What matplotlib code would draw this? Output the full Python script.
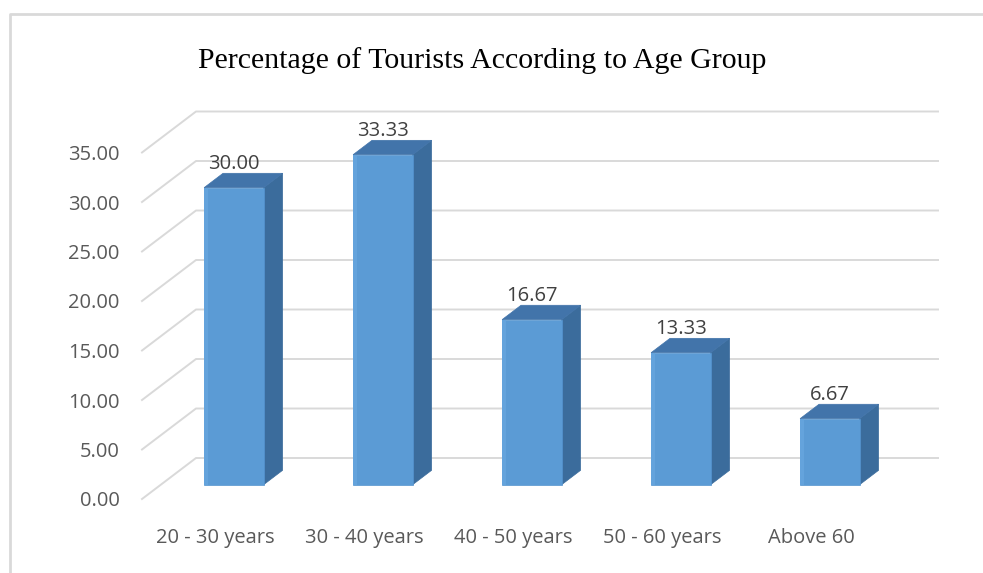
import matplotlib.pyplot as plt
from matplotlib.patches import Polygon
from matplotlib.lines import Line2D

groups = ['20 - 30 years', '30 - 40 years', '40 - 50 years', '50 - 60 years', 'Above 60']
percent = [30.00, 33.33, 16.67, 13.33, 6.67]
yticks = [0, 5, 10, 15, 20, 25, 30, 35]

W, H = 983, 573
fig = plt.figure(figsize=(W / 100, H / 100), dpi=100)

# axes box (pixels) = front edge of the floor
left, right, bottom, top = 142, 884, 499, 152.5
ax = fig.add_axes([left / W, 1 - bottom / H, (right - left) / W, (bottom - top) / H])
ax.set_xlim(-0.49, 4.49)
ax.set_ylim(0, 35)

# depth direction of the fake 3d box, in data units
p0 = ax.transData.transform((0, 0))
p1 = ax.transData.transform((1, 1))
ddx = 54 / (p1[0] - p0[0])
ddy = 41 / (p1[1] - p0[1])

grid_c = '#d9d9d9'
x0, x1 = ax.get_xlim()
for t in yticks:
    ax.add_line(Line2D([x0, x0 + ddx, x1 + ddx], [t, t + ddy, t + ddy],
                       color=grid_c, lw=1.4, clip_on=False, zorder=1))

front_c, side_c, top_c = '#5b9bd5', '#3b6c9c', '#4274aa'
w = 0.40
d_front, d_back = 0.35, 0.70
for i, v in enumerate(percent):
    fx = i + d_front * ddx
    fy = d_front * ddy
    bx = i + d_back * ddx
    by = d_back * ddy
    xl, xr = fx - w / 2, fx + w / 2
    bl, br = bx - w / 2, bx + w / 2
    side = Polygon([(xr, fy), (br, by), (br, by + v), (xr, fy + v)],
                   closed=True, fc=side_c, ec=side_c, lw=0.5, clip_on=False, zorder=3)
    topf = Polygon([(xl, fy + v), (xr, fy + v), (br, by + v), (bl, by + v)],
                   closed=True, fc=top_c, ec=top_c, lw=0.5, clip_on=False, zorder=3)
    front = Polygon([(xl, fy), (xr, fy), (xr, fy + v), (xl, fy + v)],
                    closed=True, fc=front_c, ec='#5594cf', lw=0.5, clip_on=False, zorder=4)
    # lighter strip down the left of the front face
    shine = Polygon([(xl, fy), (xl + w * 0.06, fy), (xl + w * 0.06, fy + v), (xl, fy + v)],
                    closed=True, fc='#64a3dc', ec='none', clip_on=False, zorder=5)
    for p in (side, topf, front, shine):
        ax.add_patch(p)
    ax.annotate(f'{v:.2f}', xy=(fx, fy + v), xytext=(0, 24), textcoords='offset pixels',
                ha='center', va='center', fontsize=14.5, family='Open Sans',
                color='#404040', zorder=6)

ax.set_xticks(range(len(groups)))
ax.set_xticklabels(groups, family='Open Sans', fontsize=14.5, color='#595959')
ax.set_yticks(yticks)
ax.set_yticklabels([f'{t:.2f}' for t in yticks], family='Open Sans', fontsize=14.5,
                   color='#595959')
ax.tick_params(axis='x', length=0, pad=21)
ax.tick_params(axis='y', length=0, pad=16)
for s in ax.spines.values():
    s.set_visible(False)
ax.patch.set_visible(False)

fig.text(482 / W, 1 - 61 / H, 'Percentage of Tourists According to Age Group',
         ha='center', va='center', family='Liberation Serif', fontsize=21.5, color='black')

# chart area border
fig.add_artist(Line2D([10 / W, 10 / W, 1], [0, 1 - 14 / H, 1 - 14 / H],
                      color=grid_c, lw=2, transform=fig.transFigure))

fig.savefig('out.png', dpi=100)
